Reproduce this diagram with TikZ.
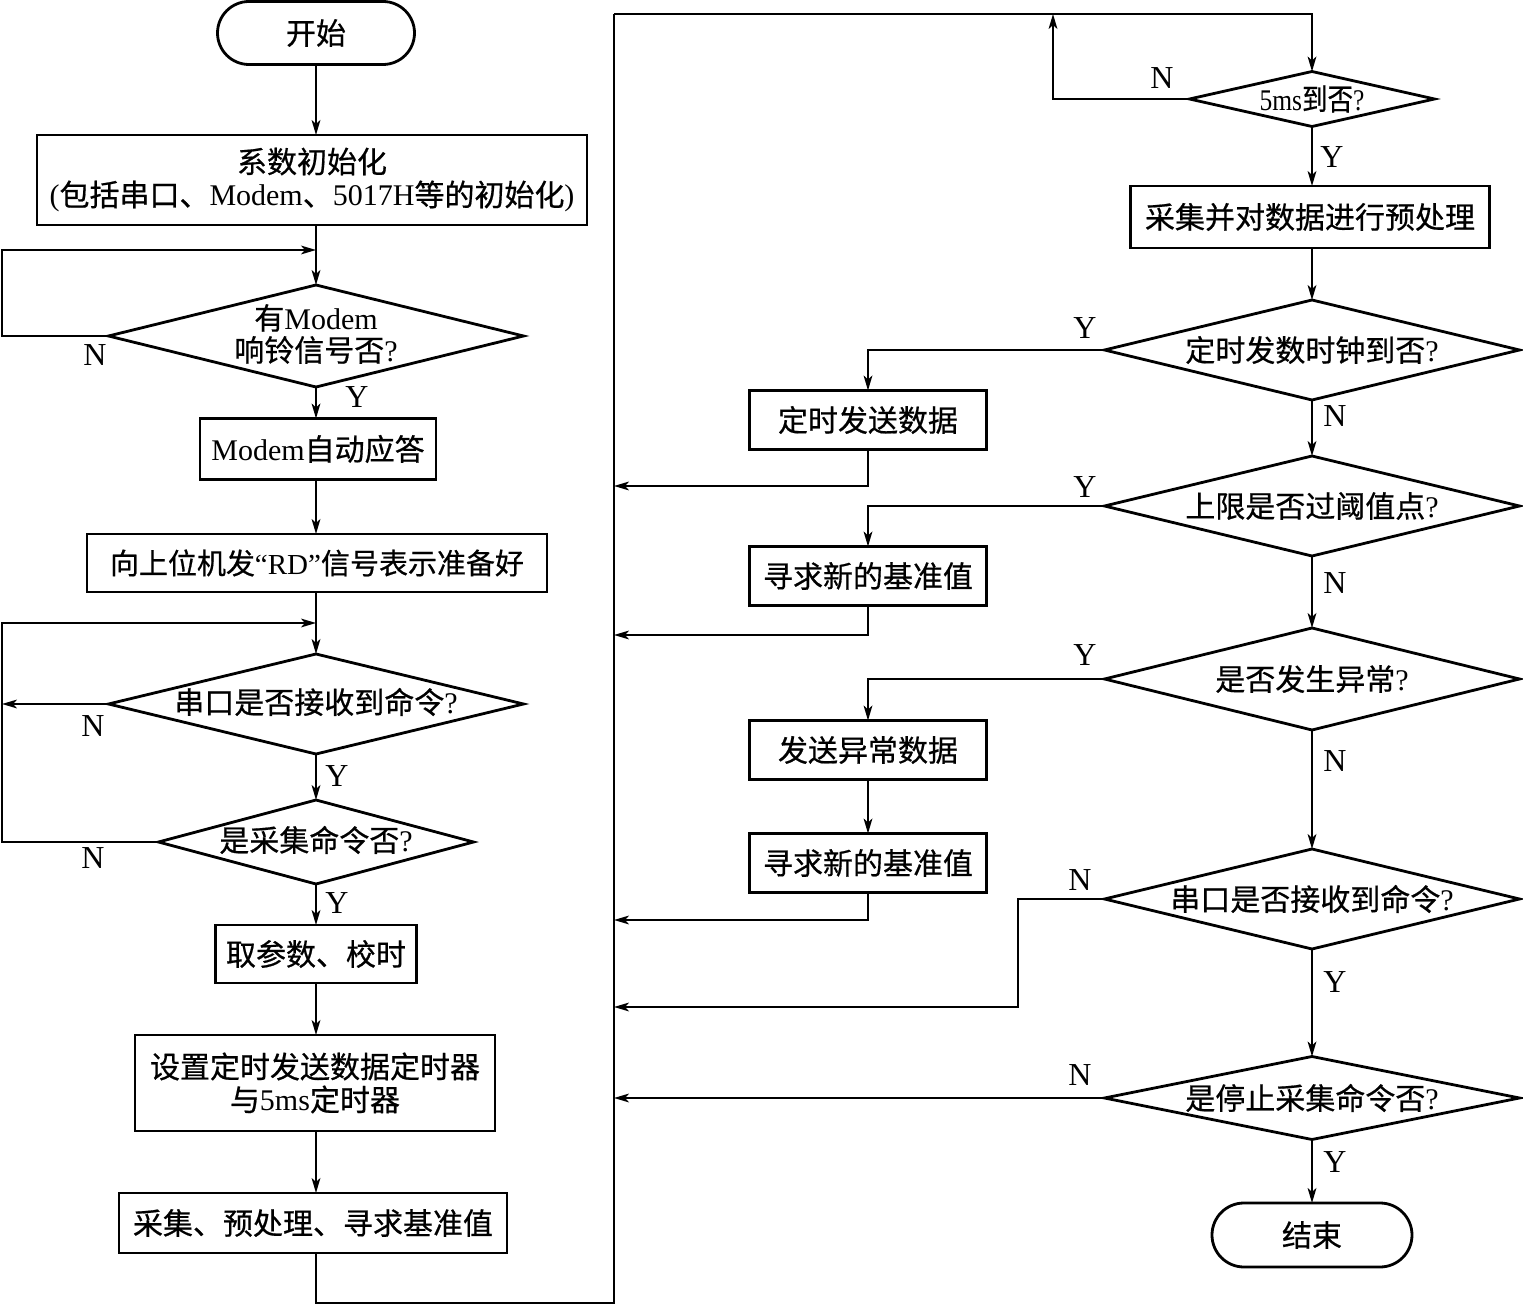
\documentclass[tikz,border=0pt]{standalone}
\usepackage{fontspec}
\usepackage{graphicx}
\setmainfont[FakeBold=0.6]{Noto Sans CJK SC}
\newfontfamily\latinfont{Liberation Serif}
\newcommand\latn[1]{{\latinfont #1}}
\usetikzlibrary{shapes.geometric,shapes.misc,arrows.meta}
\begin{document}
\begin{tikzpicture}[x=0.5pt,y=-0.5pt,
  every node/.style={inner sep=0pt, outer sep=0pt},
  box/.style={draw, rectangle, line width=1.4pt, align=center, font=\fontsize{15pt}{16.5pt}\selectfont},
  dec/.style={draw, diamond, line width=1.4pt},
  dtxt/.style={align=center, font=\fontsize{15pt}{16pt}\selectfont},
  term/.style={draw, rounded rectangle, line width=1.4pt, font=\fontsize{15pt}{16pt}\selectfont},
  conn/.style={line width=0.9pt, -{Stealth[length=7.5pt,width=4.4pt,inset=2pt]}},
  lnk/.style={line width=0.9pt},
  lab/.style={font=\latinfont\fontsize{16pt}{16pt}\selectfont}
]
\useasboundingbox (0,0) rectangle (1523,1305);

% ---------------- left column ----------------
\node[term, minimum width=98.5pt, minimum height=31.5pt] (start) at (316,33) {开始};
\node[box, minimum width=275pt, minimum height=45pt] (init) at (312,180)
  {系数初始化\\\latn{(}包括串口、\latn{Modem}、\latn{5017H}等的初始化\latn{)}};
\node[dec, minimum width=207.5pt, minimum height=51pt] (d1) at (316,336) {};
\node[dtxt] (d1t) at (316,334) {有\latn{Modem}\\响铃信号否\latn{?}};
\node[box, minimum width=118pt, minimum height=30.5pt] (modem) at (318,449) {\latn{Modem}自动应答};
\node[box, minimum width=230pt, minimum height=29pt, font=\fontsize{14.5pt}{16pt}\selectfont] (rd) at (317,563)
  {向上位机发\latn{“RD”}信号表示准备好};
\node[dec, minimum width=207.5pt, minimum height=50pt] (d2) at (316,704) {};
\node[dtxt] (d2t) at (316,702) {串口是否接收到命令\latn{?}};
\node[dec, minimum width=157.5pt, minimum height=42pt] (d3) at (316,842) {};
\node[dtxt] (d3t) at (316,840) {是采集命令否\latn{?}};
\node[box, minimum width=100.5pt, minimum height=29pt] (param) at (316,954) {取参数、校时};
\node[box, minimum width=180pt, minimum height=48pt] (timer) at (315,1083)
  {设置定时发送数据定时器\\与\latn{5ms}定时器};
\node[box, minimum width=194pt, minimum height=30pt] (acq) at (313,1223) {采集、预处理、寻求基准值};

\coordinate (j1) at (316,250);
\coordinate (c1) at (2,250);
\coordinate (j2) at (316,623);
\coordinate (c2) at (2,623);
\coordinate (bb) at (614,1303);
\coordinate (bt) at (614,14);

\draw[conn] (start) -- (start |- init.north);
\draw[conn] (d1 |- init.south) -- (d1);
\draw[conn] (d1.west) -| (c1) -- (j1);
\draw[conn] (d1) -- (d1 |- modem.north);
\draw[conn] (d1 |- modem.south) -- (d1 |- rd.north);
\draw[conn] (d1 |- rd.south) -- (d2);
\draw[conn] (d2.west) -- (c2 |- d2.west);
\draw[conn] (d3.west) -| (c2) -- (j2);
\draw[conn] (d2) -- (d3);
\draw[conn] (d3) -- (param);
\draw[conn] (param) -- (param |- timer.north);
\draw[conn] (param |- timer.south) -- (param |- acq.north);

\node[lab] (n1) at (95,355) {N};
\node[lab] (y1) at (357,397) {Y};
\node[lab] (n2) at (93,726) {N};
\node[lab] (y2) at (337,776) {Y};
\node[lab] (n3) at (93,858) {N};
\node[lab] (y3) at (337,903) {Y};

% ---------------- right column ----------------
\node[dec, minimum width=122.5pt, minimum height=27.5pt] (d5) at (1312,99) {};
\node[dtxt] (d5t) at (1312,99) {\scalebox{0.85}[1]{\latn{5ms}到否\latn{?}}};
\node[box, minimum width=179.5pt, minimum height=31pt] (pre) at (1310,217) {采集并对数据进行预处理};
\node[dec, minimum width=207.5pt, minimum height=50pt] (dclk) at (1312,350) {};
\node[dtxt] (dclkt) at (1312,350) {定时发数时钟到否\latn{?}};
\node[dec, minimum width=207.5pt, minimum height=50pt] (dlim) at (1312,506) {};
\node[dtxt] (dlimt) at (1312,506) {上限是否过阈值点\latn{?}};
\node[dec, minimum width=207.5pt, minimum height=51pt] (dexc) at (1312,679) {};
\node[dtxt] (dexct) at (1312,679) {是否发生异常\latn{?}};
\node[dec, minimum width=207.5pt, minimum height=50pt] (dser) at (1312,899) {};
\node[dtxt] (dsert) at (1312,899) {串口是否接收到命令\latn{?}};
\node[dec, minimum width=207.5pt, minimum height=41.5pt] (dstop) at (1312,1098) {};
\node[dtxt] (dstopt) at (1312,1098) {是停止采集命令否\latn{?}};
\node[term, minimum width=100pt, minimum height=32pt] (end) at (1312,1235) {结束};

% middle column
\node[box, minimum width=118.5pt, minimum height=29.5pt] (send) at (868,420) {定时发送数据};
\node[box, minimum width=118.5pt, minimum height=29.5pt] (new1) at (868,576) {寻求新的基准值};
\node[box, minimum width=118.5pt, minimum height=29.5pt] (exc) at (868,750) {发送异常数据};
\node[box, minimum width=118.5pt, minimum height=29.5pt] (new2) at (868,863) {寻求新的基准值};

\coordinate (n5) at (1053,14);
\coordinate (b1) at (614,486);
\coordinate (b2) at (614,635);
\coordinate (b3) at (614,920);
\coordinate (b4) at (614,1007);
\coordinate (k1) at (1018,1007);
\coordinate (b5) at (614,1098);

\draw[lnk] (param |- acq.south) |- (bb) -- (bt);
\draw[conn] (bt) -| (d5.north);
\draw[conn] (d5.west) -| (n5);
\draw[conn] (d5) -- (d5 |- pre.north);
\draw[conn] (d5 |- pre.south) -- (dclk);
\draw[conn] (dclk.west) -| (send.north);
\draw[conn] (send.south) |- (b1);
\draw[conn] (dclk) -- (dlim);
\draw[conn] (dlim.west) -| (new1.north);
\draw[conn] (new1.south) |- (b2);
\draw[conn] (dlim) -- (dexc);
\draw[conn] (dexc.west) -| (exc.north);
\draw[conn] (exc) -- (new2);
\draw[conn] (new2.south) |- (b3);
\draw[conn] (dexc) -- (dser);
\draw[conn] (dser.west) -| (k1) -- (b4);
\draw[conn] (dser) -- (dstop);
\draw[conn] (dstop.west) -- (b5);
\draw[conn] (dstop) -- (end);

\node[lab] (n5l) at (1162,78) {N};
\node[lab] (y5l) at (1332,157) {Y};
\node[lab] (yclk) at (1085,328) {Y};
\node[lab] (nclk) at (1335,416) {N};
\node[lab] (ylim) at (1085,487) {Y};
\node[lab] (nlim) at (1335,583) {N};
\node[lab] (yexc) at (1085,655) {Y};
\node[lab] (nexc) at (1335,761) {N};
\node[lab] (nser) at (1080,880) {N};
\node[lab] (yser) at (1335,982) {Y};
\node[lab] (nstop) at (1080,1075) {N};
\node[lab] (ystop) at (1335,1162) {Y};
\end{tikzpicture}
\end{document}
